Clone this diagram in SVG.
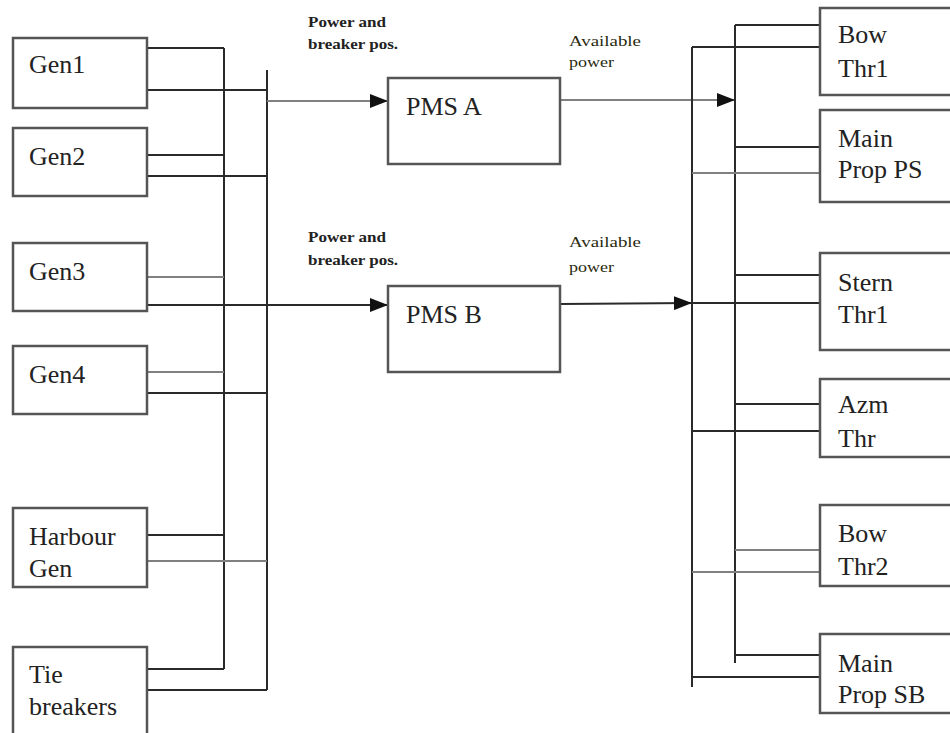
<svg xmlns="http://www.w3.org/2000/svg" width="950" height="733" viewBox="0 0 950 733">
<defs>
<marker id="arr" markerWidth="18" markerHeight="14" refX="18" refY="7" orient="auto" markerUnits="userSpaceOnUse">
<path d="M0,0 L18,7 L0,14 Z" fill="#111"/>
</marker>
<style>
.box{fill:#fff;stroke:#555;stroke-width:2.5}
text{font-family:'Liberation Serif','DejaVu Serif','Times New Roman',serif}
.lbl{font-size:26px;fill:#222}
.sm{font-size:14px;fill:#222;font-weight:bold}
.av{font-size:14px;fill:#2a2a10}
.w{fill:none;stroke:#2a2a2a;stroke-width:2}
.g{fill:none;stroke:#808080;stroke-width:2}
</style>
</defs>
<rect width="950" height="733" fill="#fff"/>
<g id="connectors">
<line class="w" x1="224" y1="48" x2="224" y2="669"/>
<line class="w" x1="267" y1="70" x2="267" y2="690"/>
<line class="w" x1="147" y1="48" x2="224" y2="48"/>
<line class="w" x1="147" y1="90" x2="267" y2="90"/>
<line class="w" x1="147" y1="155" x2="224" y2="155"/>
<line class="w" x1="147" y1="176" x2="267" y2="176" stroke-width="3"/>
<line class="g" x1="147" y1="277" x2="224" y2="277"/>
<line class="g" x1="147" y1="372" x2="224" y2="372"/>
<line class="w" x1="147" y1="393" x2="267" y2="393"/>
<line class="w" x1="147" y1="535" x2="224" y2="535"/>
<line class="g" x1="147" y1="561" x2="267" y2="561"/>
<line class="w" x1="147" y1="669" x2="224" y2="669"/>
<line class="w" x1="147" y1="690" x2="267" y2="690"/>
<line class="g" x1="267" y1="101" x2="388" y2="101" marker-end="url(#arr)"/>
<line class="w" x1="147" y1="305" x2="388" y2="305" marker-end="url(#arr)"/>
<line class="g" x1="560" y1="100" x2="735" y2="100" marker-end="url(#arr)"/>
<line class="w" x1="560" y1="304" x2="692" y2="303" marker-end="url(#arr)"/>
<line class="w" x1="735" y1="25" x2="735" y2="663"/>
<line class="w" x1="692" y1="47" x2="692" y2="687"/>
<line class="w" x1="735" y1="25" x2="820" y2="25"/>
<line class="w" x1="692" y1="47" x2="820" y2="47"/>
<line class="w" x1="735" y1="147" x2="820" y2="147"/>
<line class="g" x1="692" y1="173" x2="820" y2="173"/>
<line class="w" x1="735" y1="275" x2="820" y2="275"/>
<line class="w" x1="692" y1="303" x2="820" y2="303"/>
<line class="w" x1="735" y1="404" x2="820" y2="404"/>
<line class="w" x1="692" y1="431" x2="820" y2="431"/>
<line class="g" x1="735" y1="550" x2="820" y2="550"/>
<line class="g" x1="692" y1="572" x2="820" y2="572"/>
<line class="w" x1="735" y1="655" x2="820" y2="655"/>
<line class="w" x1="692" y1="677" x2="820" y2="677"/>
</g>
<g font-family="Liberation Serif, DejaVu Serif, serif">
<g id="gen1"><rect class="box" x="13" y="38" width="134" height="70"/><text class="lbl" x="29" y="73">Gen1</text></g>
<g id="gen2"><rect class="box" x="13" y="128" width="134" height="68"/><text class="lbl" x="29" y="165">Gen2</text></g>
<g id="gen3"><rect class="box" x="13" y="243" width="134" height="68"/><text class="lbl" x="29" y="280">Gen3</text></g>
<g id="gen4"><rect class="box" x="13" y="346" width="134" height="68"/><text class="lbl" x="29" y="383">Gen4</text></g>
<g id="harbour"><rect class="box" x="13" y="508" width="134" height="79"/><text class="lbl" x="29" y="545">Harbour</text><text class="lbl" x="29" y="577">Gen</text></g>
<g id="tie"><rect class="box" x="13" y="647" width="134" height="100"/><text class="lbl" x="29" y="683">Tie</text><text class="lbl" x="29" y="715">breakers</text></g>
<g id="pmsa"><rect class="box" x="388" y="78" width="172" height="86"/><text class="lbl" x="406" y="115">PMS A</text></g>
<g id="pmsb"><rect class="box" x="388" y="286" width="172" height="86"/><text class="lbl" x="406" y="323">PMS B</text></g>
<g id="bowthr1"><rect class="box" x="820" y="8" width="140" height="87"/><text class="lbl" x="838" y="43">Bow</text><text class="lbl" x="838" y="77">Thr1</text></g>
<g id="mainpropps"><rect class="box" x="820" y="110" width="140" height="92"/><text class="lbl" x="838" y="147">Main</text><text class="lbl" x="838" y="178">Prop PS</text></g>
<g id="sternthr1"><rect class="box" x="820" y="253" width="140" height="97"/><text class="lbl" x="838" y="291">Stern</text><text class="lbl" x="838" y="323">Thr1</text></g>
<g id="azmthr"><rect class="box" x="820" y="379" width="140" height="78"/><text class="lbl" x="838" y="413">Azm</text><text class="lbl" x="838" y="447">Thr</text></g>
<g id="bowthr2"><rect class="box" x="820" y="505" width="140" height="81"/><text class="lbl" x="838" y="542">Bow</text><text class="lbl" x="838" y="575">Thr2</text></g>
<g id="mainpropsb"><rect class="box" x="820" y="634" width="140" height="79"/><text class="lbl" x="838" y="672">Main</text><text class="lbl" x="838" y="703">Prop SB</text></g>
<g id="labels">
<text class="sm" x="308" y="27" textLength="78" lengthAdjust="spacingAndGlyphs">Power and</text>
<text class="sm" x="308" y="49" textLength="90" lengthAdjust="spacingAndGlyphs">breaker pos.</text>
<text class="av" x="569" y="46" textLength="72" lengthAdjust="spacingAndGlyphs">Available</text>
<text class="av" x="569" y="67" textLength="45" lengthAdjust="spacingAndGlyphs">power</text>
<text class="sm" x="308" y="242" textLength="78" lengthAdjust="spacingAndGlyphs">Power and</text>
<text class="sm" x="308" y="265" textLength="90" lengthAdjust="spacingAndGlyphs">breaker pos.</text>
<text class="av" x="569" y="247" textLength="72" lengthAdjust="spacingAndGlyphs">Available</text>
<text class="av" x="569" y="272" textLength="45" lengthAdjust="spacingAndGlyphs">power</text>
</g>
</g>
</svg>
